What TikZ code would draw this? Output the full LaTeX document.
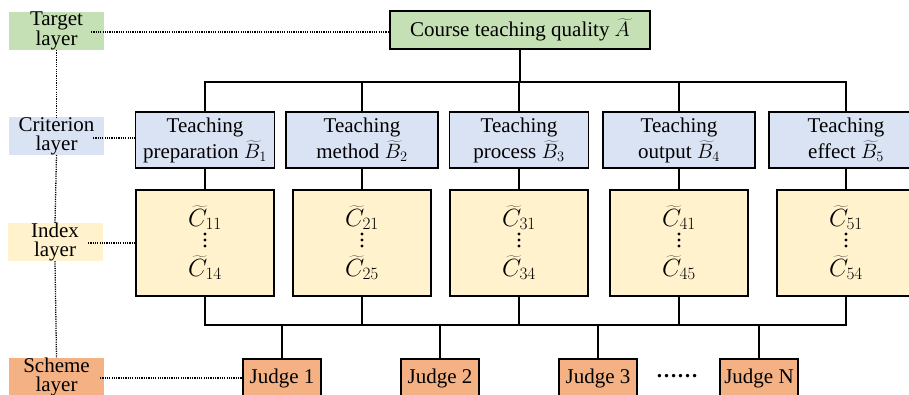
\documentclass[tikz,border=0pt]{standalone}
\usepackage{fontspec}
\setmainfont{Liberation Serif}
\definecolor{tgreen}{HTML}{C5E0B4}
\definecolor{cblue}{HTML}{DAE3F3}
\definecolor{iyellow}{HTML}{FFF2CC}
\definecolor{sorange}{HTML}{F4B183}
\newcommand{\idx}[2]{$\widetilde{C}_{#1}$\\[25pt]$\widetilde{C}_{#2}$}
\begin{document}
\begin{tikzpicture}[x=1pt,y=-1pt,
  every node/.style={inner sep=0pt, outer sep=0pt, align=center},
  mainfont/.style={font=\fontsize{21}{26}\selectfont},
  layerlbl/.style={font=\fontsize{21}{19}\selectfont, minimum width=95pt, minimum height=38pt},
  box/.style={draw, line width=1.4pt, mainfont},
  critbox/.style={box, fill=cblue, minimum height=56pt},
  idxbox/.style={draw, line width=1.4pt, fill=iyellow, minimum width=138pt, minimum height=106pt, font=\fontsize{23}{25}\selectfont},
  judgebox/.style={box, fill=sorange, minimum width=78pt, minimum height=38pt},
  conn/.style={line width=1.3pt},
  dotline/.style={line width=1.3pt, dash pattern=on 1.2pt off 1.1pt}
]
\useasboundingbox (0,0) rectangle (909,394);
\clip (0,0) rectangle (909,394);

% layer labels
\node[layerlbl, fill=tgreen] (Lt) at (56.5,31) {Target\\layer};
\node[layerlbl, fill=cblue] (Lc) at (56.5,136) {Criterion\\layer};
\node[layerlbl, fill=iyellow] (Li) at (55,242) {Index\\layer};
\node[layerlbl, fill=sorange] (Ls) at (56.5,377) {Scheme\\layer};

% target
\node[box, fill=tgreen, minimum width=260pt, minimum height=38pt] (A) at (520,30) {Course teaching quality $\widetilde{A}$};

% criteria
\node[critbox, minimum width=139pt] (B1) at (205,140) {Teaching\\preparation $\widetilde{B}_1$};
\node[critbox, minimum width=152pt] (B2) at (362,140) {Teaching\\method $\widetilde{B}_2$};
\node[critbox, minimum width=139pt] (B3) at (519,140) {Teaching\\process $\widetilde{B}_3$};
\node[critbox, minimum width=152pt] (B4) at (679,140) {Teaching\\output $\widetilde{B}_4$};
\node[critbox, minimum width=154pt] (B5) at (846,140) {Teaching\\effect $\widetilde{B}_5$};

% indices
\node[idxbox] (C1) at (205,243) {\idx{11}{14}};
\node[idxbox] (C2) at (362,243) {\idx{21}{25}};
\node[idxbox] (C3) at (519,243) {\idx{31}{34}};
\node[idxbox] (C4) at (679,243) {\idx{41}{45}};
\node[idxbox] (C5) at (846,243) {\idx{51}{54}};
\foreach \c in {C1,C2,C3,C4,C5} {
  \foreach \dy in {-9,-3,3} { \fill ([yshift=-\dy pt]\c.center) circle (1.6pt); }
}

% judges
\node[judgebox] (J1) at (282,378) {Judge 1};
\node[judgebox] (J2) at (440,378) {Judge 2};
\node[judgebox] (J3) at (598,378) {Judge 3};
\node[judgebox] (JN) at (759,378) {Judge N};
\node[mainfont] (dots) at (677,376) {\bfseries ……};

% buses
\coordinate (topbus) at (520,82);
\coordinate (botbus) at (520,325);
\draw[conn] (A.south) -- (topbus);
\draw[conn] (B1.north) |- (topbus) -| (B5.north);
\draw[conn] (B2.north) -- (B2.north |- topbus);
\draw[conn] (B3.north) -- (B3.north |- topbus);
\draw[conn] (B4.north) -- (B4.north |- topbus);
\foreach \i in {1,...,5} { \draw[conn] (B\i.south) -- (C\i.north); }
\draw[conn] (C1.south) |- (botbus) -| (C5.south);
\draw[conn] (C2.south) -- (C2.south |- botbus);
\draw[conn] (C3.south) -- (C3.south |- botbus);
\draw[conn] (C4.south) -- (C4.south |- botbus);
\foreach \j in {J1,J2,J3,JN} { \draw[conn] (\j.north) -- (\j.north |- botbus); }

% dotted guides
\draw[dotline] (Lt.south) -- (Lc.north);
\draw[dotline] (Lc.south) -- (Li.north);
\draw[dotline] (Li.south) -- (Ls.north);
\coordinate (te) at (91,32);
\coordinate (ce) at (93,138);
\coordinate (ie) at (88,243);
\coordinate (se) at (100,378);
\draw[dotline] (te) -- (te -| A.west);
\draw[dotline] (ce) -- (ce -| B1.west);
\draw[dotline] (ie) -- (ie -| C1.west);
\draw[dotline] (se) -- (se -| J1.west);
\end{tikzpicture}
\end{document}
